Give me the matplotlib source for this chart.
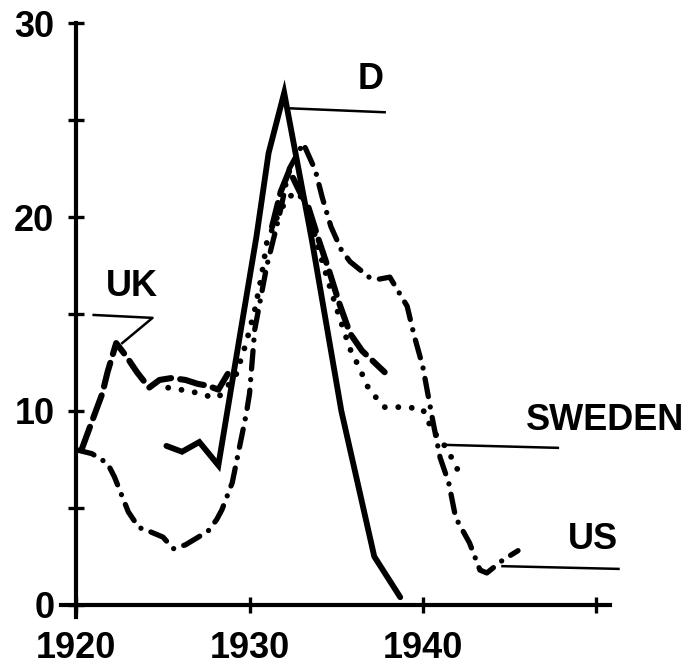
import numpy as np
import matplotlib
matplotlib.use('Agg')
import matplotlib.pyplot as plt

nan = np.nan

# D (solid)
years_d = [1925.2, 1926.1, 1927.1, 1928.2, 1929.5, 1930.4, 1931.1, 1932.0,
           1932.8, 1933.6, 1935.3, 1937.2, 1938.7]
val_d = [8.2, 7.9, 8.4, 7.2, 14.2, 19.0, 23.3, 26.4, 22.6, 18.8, 10.0, 2.5, 0.4]

# UK (dashed), gap between the two pieces
years_uk = [1920.3, 1921.0, 1921.5, 1921.8, 1922.3, 1922.9, 1923.5, 1924.2,
            1924.8, 1925.5, 1926.3, 1927.0, 1927.6, 1928.2, 1928.8, nan,
            1931.3, 1931.8, 1932.3, 1932.9, 1933.4, 1934.0, 1934.6, 1935.2,
            1935.8, 1936.5, 1937.8]
val_uk = [8.0, 9.7, 10.9, 12.0, 13.5, 12.8, 12.0, 11.2,
          11.6, 11.7, 11.6, 11.4, 11.3, 11.1, 12.0, nan,
          19.5, 21.3, 22.4, 21.3, 20.5, 18.8, 17.2, 15.5,
          14.0, 13.1, 12.0]

# US (dash-dot)
years_us = [1920.0, 1920.9, 1921.8, 1922.2, 1923.0, 1923.6, 1924.2, 1925.0,
            1925.6, 1926.3, 1927.6, 1928.1, 1928.4, 1929.0, 1929.8, 1930.0,
            1930.3, 1931.0, 1931.7, 1932.3, 1933.1, 1933.8, 1934.2, 1934.7,
            1935.3, 1935.8, 1936.9, 1937.5, 1938.1, 1939.1, 1939.5, 1940.0,
            1940.6, 1941.0, 1941.5, 1941.9, 1942.7, 1943.3, 1943.7, 1944.6,
            1945.5]
val_us = [8.0, 7.8, 7.3, 6.6, 4.8, 4.0, 3.8, 3.5,
          2.9, 3.1, 3.8, 4.4, 4.9, 6.3, 9.8, 10.9,
          14.2, 17.5, 20.0, 22.5, 23.8, 22.4, 21.0, 19.5,
          18.3, 17.7, 16.9, 16.8, 16.9, 15.4, 13.9, 12.3,
          9.4, 7.6, 6.3, 4.5, 3.2, 1.8, 1.65, 2.3,
          2.8]

# SWEDEN (dotted)
years_sw = [1925.3, 1926.0, 1926.7, 1927.4, 1928.2, 1929.2, 1929.8, 1930.3,
            1930.7, 1931.0, 1931.6, 1932.2, 1932.8, 1933.4, 1934.0, 1934.6,
            1935.2, 1935.8, 1936.3, 1936.9, 1937.8, 1938.3, 1939.0, 1940.0,
            1940.6, 1941.0, 1941.6, 1942.0]
val_sw = [11.2, 11.1, 11.0, 10.8, 10.7, 11.8, 13.5, 15.2,
          17.0, 18.7, 20.0, 21.0, 21.3, 20.3, 18.3, 16.5,
          14.8, 13.2, 12.3, 11.1, 10.2, 10.2, 10.2, 10.1,
          8.9, 8.6, 7.7, 7.0]

y_major = [0, 10, 20, 30]
y_minor = [5, 15, 25]
x_ticks = [1920, 1930, 1940, 1950]
x_labels = ['1920', '1930', '1940', '']

# label text, text position, leader line points
labels = [
    ('UK', (1923.2, 16.4), [(1921.0, 14.95), (1924.4, 14.8), (1922.65, 13.5)]),
    ('D', (1937.0, 27.1), [(1932.4, 25.6), (1937.8, 25.4)]),
    ('SWEDEN', (1950.5, 9.5), [(1941.4, 8.25), (1947.8, 8.1)]),
    ('US', (1949.8, 3.35), [(1944.6, 2.0), (1951.3, 1.86)]),
]

plt.rcParams['font.family'] = ['Liberation Sans', 'DejaVu Sans']

fig = plt.figure(figsize=(6.94, 6.71), dpi=100)
ax = fig.add_axes([0.11, 0.0984, 0.89, 0.8673])

ax.plot(years_sw, val_sw, color='black', lw=4.2, linestyle=(0, (0.01, 2.3)),
        dash_capstyle='round', solid_capstyle='round')
ax.plot(years_us, val_us, color='black', lw=3.8, linestyle=(0, (3.5, 2.0, 0.01, 2.0)),
        dash_capstyle='round')
ax.plot(years_uk, val_uk, color='black', lw=4.4, linestyle=(0, (4.0, 1.5)),
        dash_capstyle='round')
ax.plot(years_d, val_d, color='black', lw=4.2, solid_capstyle='round',
        solid_joinstyle='miter')

for txt, (tx, ty), pts in labels:
    xs = [p[0] for p in pts]
    ys = [p[1] for p in pts]
    ax.plot(xs, ys, color='black', lw=1.8, clip_on=False)
    ax.text(tx, ty, txt, fontsize=26, fontweight='bold', ha='center', va='center',
            clip_on=False)

ax.set_xlim(1920, 1955.66)
ax.set_ylim(0, 30)

for s in ['top', 'right']:
    ax.spines[s].set_visible(False)
ax.spines['left'].set_linewidth(3)
ax.spines['bottom'].set_linewidth(3)
ax.spines['left'].set_bounds(-0.6, 30)
ax.spines['bottom'].set_bounds(1919.1, 1950.8)
ax.spines['left'].set_clip_on(False)
ax.spines['bottom'].set_clip_on(False)

ax.set_yticks(y_major)
ax.set_yticks(y_minor, minor=True)
ax.set_xticks(x_ticks)
ax.set_xticklabels(x_labels)
ax.tick_params(axis='both', which='both', direction='inout', length=11.5,
               width=2.4, color='black')
ax.tick_params(axis='y', which='major', pad=10, labelsize=26)
ax.tick_params(axis='x', which='major', pad=13, labelsize=26)
for lab in ax.get_xticklabels() + ax.get_yticklabels():
    lab.set_fontweight('bold')

fig.savefig('out.png', dpi=100)
